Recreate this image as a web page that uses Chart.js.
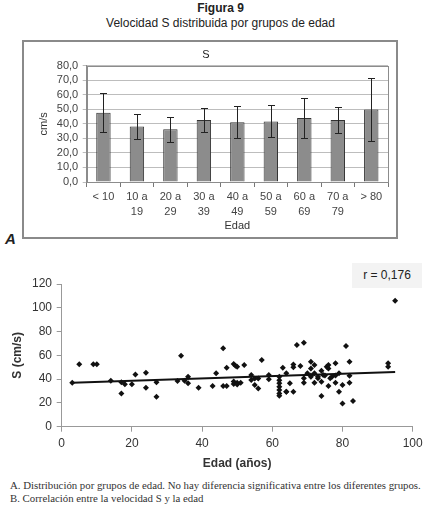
<!DOCTYPE html>
<html>
<head>
<meta charset="utf-8">
<script src="https://cdn.jsdelivr.net/npm/chart.js@4.4.1/dist/chart.umd.min.js"></script>
<style>
  html, body { margin:0; padding:0; background:#fff; }
  body { width:441px; height:511px; position:relative; overflow:hidden; font-family:"Liberation Sans", Arial, sans-serif; }
  .abs { position:absolute; }
  #t1 { left:0; width:441px; top:1px; text-align:center; font-weight:bold; font-size:12px; color:#222; }
  #t2 { left:0; width:441px; top:16px; text-align:center; font-size:12px; color:#222; }
  #box { left:22px; top:40px; width:376px; height:199px; box-sizing:border-box; border:2px solid #8a8a8a; }
  #c1 { left:24px; top:42px; }
  #lblA { left:5px; top:230px; font-weight:bold; font-style:italic; font-size:15px; color:#222; }
  #c2 { left:0; top:262px; }
  #rbox { left:352px; top:263px; width:70px; height:25px; background:#f3f3f3; text-align:center; line-height:25px; font-size:12px; color:#222; }
  .cap { left:10px; font-family:"Liberation Serif", serif; font-size:10.8px; color:#333; white-space:nowrap; }
  #cap1 { top:479px; }
  #cap2 { top:492px; }
</style>
</head>
<body>
<div id="t1" class="abs">Figura 9</div>
<div id="t2" class="abs">Velocidad S distribuida por grupos de edad</div>
<div id="box" class="abs"></div>
<canvas id="c1" class="abs" width="372" height="195"></canvas>
<div id="lblA" class="abs">A</div>
<canvas id="c2" class="abs" width="441" height="212"></canvas>
<div id="rbox" class="abs">r = 0,176</div>
<div id="cap1" class="abs cap">A. Distribución por grupos de edad. No hay diferencia significativa entre los diferentes grupos.</div>
<div id="cap2" class="abs cap">B. Correlación entre la velocidad S y la edad</div>
<script>
// ---------- Data: panel A (bar chart) ----------
const ageGroups = [['< 10'], ['10 a', '19'], ['20 a', '29'], ['30 a', '39'], ['40 a', '49'], ['50 a', '59'], ['60 a', '69'], ['70 a', '79'], ['> 80']];
const meanS = [47.7, 38.1, 36.2, 42.7, 41.1, 41.7, 44.0, 42.7, 49.8];
const sdS   = [13.5, 8.8, 8.5, 8.5, 11.0, 11.0, 13.5, 9.0, 21.6];
const barYTicks = [0, 10, 20, 30, 40, 50, 60, 70, 80];

// ---------- Data: panel B (scatter) ----------
const edad = [3, 5, 9, 10, 14, 17, 18, 17, 20, 21, 24, 24, 27, 27, 33, 34, 35,
  36, 36, 39, 43, 44, 46, 46, 47, 47, 49, 49.5, 50, 49, 50, 49, 50, 51, 52, 54, 54, 55, 56, 55, 56, 57, 59, 59,
  62, 62, 62, 62, 62, 62, 62, 63, 64, 64, 65, 64, 66, 66, 66, 67, 68, 69, 69, 69, 70, 71, 71, 71, 72, 72, 72, 73, 74, 74, 74, 74.5,
  75.5, 76, 76, 76.5, 78, 78, 79, 79, 80, 80, 81, 82, 82, 82, 83, 93, 93, 95,
  71, 73, 75, 76, 77, 78];
const velS = [37, 52.5, 52.5, 52.5, 38.7, 37.3, 35.6, 28, 35.6, 44, 45.4, 32.8, 37.3, 25.2, 38.4, 59.7, 38.7,
  42, 36.5, 32.8, 34.2, 44.9, 65.9, 34.2, 49.6, 34.2, 52.7, 51.3, 50.4, 38, 37, 36, 35.5, 37, 51.8, 43.4, 39.2, 40.5, 40.5, 35, 32.2, 56, 43.4, 39.8,
  42, 39, 36.5, 33.6, 30.8, 28, 26, 49.6, 44.9, 29.4, 36.5, 29.4, 52.4, 49.9, 29.4, 68.7, 51, 70.6, 40.7, 37, 44.9, 54.6, 49, 43, 45, 51.8, 37, 40.7, 37.8, 25.8, 47, 43.4,
  50.4, 51.8, 34.2, 40.7, 53.3, 37, 44.9, 29.4, 35, 19.6, 67.8, 54.6, 42.9, 37, 21.6, 53.3, 50.4, 106,
  42, 42, 43, 49, 42, 43];
const trendX = [3, 95];
const trendY = [37, 46];
const scatterXTicks = [0, 20, 40, 60, 80, 100];
const scatterYTicks = [0, 20, 40, 60, 80, 100, 120];

const FONT = '"Liberation Sans", Arial, sans-serif';

// ---------- Plugins ----------
const plotFrame = {
  id: 'plotFrame',
  beforeDatasetsDraw(chart) {
    const a = chart.chartArea, ctx = chart.ctx;
    ctx.save();
    ctx.strokeStyle = '#8c8c8c';
    ctx.lineWidth = 1;
    ctx.strokeRect(Math.round(a.left) + 0.5, Math.round(a.top) + 0.5, Math.round(a.right - a.left), Math.round(a.bottom - a.top));
    ctx.restore();
  }
};
const errorBars = {
  id: 'errorBars',
  afterDatasetsDraw(chart) {
    const meta = chart.getDatasetMeta(0), ys = chart.scales.y, ctx = chart.ctx;
    ctx.save();
    ctx.strokeStyle = '#222';
    ctx.lineWidth = 1;
    meta.data.forEach((bar, i) => {
      const x = Math.round(bar.x) + 0.5;
      const t = Math.round(ys.getPixelForValue(meanS[i] + sdS[i])) + 0.5;
      const b = Math.round(ys.getPixelForValue(meanS[i] - sdS[i])) + 0.5;
      ctx.beginPath();
      ctx.moveTo(x, t); ctx.lineTo(x, b);
      ctx.moveTo(x - 3.5, t); ctx.lineTo(x + 3.5, t);
      ctx.moveTo(x - 3.5, b); ctx.lineTo(x + 3.5, b);
      ctx.stroke();
    });
    ctx.restore();
  }
};

// ---------- Panel A ----------
new Chart(document.getElementById('c1'), {
  type: 'bar',
  data: {
    labels: ageGroups,
    datasets: [{
      data: meanS,
      backgroundColor: '#8c8c8c',
      borderColor: '#333',
      borderWidth: 1,
      barPercentage: 0.43,
      categoryPercentage: 1.0
    }]
  },
  options: {
    responsive: false,
    animation: false,
    devicePixelRatio: 1,
    layout: { padding: { top: 0, right: 8, bottom: 0, left: 0 } },
    plugins: {
      legend: { display: false },
      tooltip: { enabled: false },
      title: { display: true, text: 'S', color: '#222', font: { family: FONT, size: 11, weight: 'normal' }, padding: { top: 6, bottom: 4.5 } }
    },
    scales: {
      x: {
        grid: { display: true, drawOnChartArea: false, drawTicks: true, tickLength: 5, color: '#777', offset: true },
        border: { color: '#555' },
        ticks: { color: '#444', font: { family: FONT, size: 11, lineHeight: 1.35 }, padding: 2.6, maxRotation: 0, autoSkip: false },
        title: { display: true, text: 'Edad', color: '#333', font: { family: FONT, size: 11 }, padding: { top: 0, bottom: 4 } },
        afterFit(s) { s.height = 55; }
      },
      y: {
        min: 0, max: 80,
        afterBuildTicks(s) { s.ticks = barYTicks.map(v => ({ value: v })); },
        grid: { color: '#bdbdbd', tickLength: 4, drawTicks: true },
        border: { color: '#8c8c8c' },
        ticks: { color: '#444', font: { family: FONT, size: 11 }, padding: 4.5, autoSkip: false,
          callback: v => v.toFixed(1).replace('.', ',') },
        title: { display: true, text: 'cm/s', color: '#333', font: { family: FONT, size: 11 }, padding: { top: 13.4, bottom: 0 } },
        afterFit(s) { s.width = 62.7; }
      }
    }
  },
  plugins: [plotFrame, errorBars]
});

// ---------- Panel B ----------
const scatterPts = edad.map((x, i) => ({ x: x, y: velS[i] }));
const trendPts = trendX.map((x, i) => ({ x: x, y: trendY[i] }));
new Chart(document.getElementById('c2'), {
  type: 'scatter',
  data: {
    datasets: [
      { type: 'line', data: trendPts, borderColor: '#111', borderWidth: 2, pointRadius: 0, fill: false, order: 2 },
      { data: scatterPts, pointStyle: 'rectRot', pointRadius: 3, backgroundColor: '#111', borderColor: '#111', borderWidth: 0, order: 1 }
    ]
  },
  options: {
    responsive: false,
    animation: false,
    devicePixelRatio: 1,
    layout: { padding: { top: 22, right: 28.3, bottom: 0, left: 0 } },
    plugins: { legend: { display: false }, tooltip: { enabled: false } },
    scales: {
      x: {
        type: 'linear', min: 0, max: 100,
        afterBuildTicks(s) { s.ticks = scatterXTicks.map(v => ({ value: v })); },
        grid: { drawOnChartArea: false, drawTicks: true, tickLength: 5, color: '#999' },
        border: { color: '#999' },
        ticks: { color: '#333', font: { family: FONT, size: 12 }, padding: 5, autoSkip: false },
        title: { display: true, text: 'Edad (años)', color: '#333', font: { family: FONT, size: 12, weight: 'bold' }, padding: { top: 0, bottom: 2.8 } },
        afterFit(s) { s.height = 47.3; }
      },
      y: {
        min: 0, max: 120,
        afterBuildTicks(s) { s.ticks = scatterYTicks.map(v => ({ value: v })); },
        grid: { drawOnChartArea: false, drawTicks: true, tickLength: 5, color: '#999' },
        border: { color: '#999' },
        ticks: { color: '#333', font: { family: FONT, size: 12 }, padding: 4.7, autoSkip: false },
        title: { display: true, text: 'S (cm/s)', color: '#333', font: { family: FONT, size: 12, weight: 'bold' }, padding: { top: 10.8, bottom: 0 } },
        afterFit(s) { s.width = 61.7; }
      }
    }
  }
});
</script>
</body>
</html>
